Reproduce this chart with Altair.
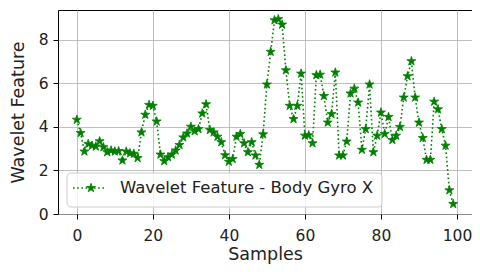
import math
import altair as alt
import pandas as pd

values = [
    4.33, 3.72, 2.87, 3.22, 3.14, 3.10, 3.34, 3.07, 2.84, 2.92,
    2.87, 2.89, 2.46, 2.87, 2.79, 2.77, 2.57, 3.75, 4.56, 5.01,
    4.97, 4.25, 2.73, 2.43, 2.61, 2.73, 2.92, 3.17, 3.52, 3.70,
    4.01, 3.80, 3.90, 4.62, 5.04, 3.86, 3.75, 3.55, 3.30, 2.70,
    2.40, 2.53, 3.55, 3.68, 3.25, 2.84, 3.30, 2.69, 2.26, 3.66,
    5.95, 7.45, 8.90, 8.95, 8.70, 6.60, 4.97, 4.36, 4.97, 6.45,
    3.60, 3.62, 3.25, 6.38, 6.40, 5.42, 4.20, 4.59, 6.50, 2.69,
    2.69, 3.33, 5.54, 5.76, 5.12, 2.95, 3.90, 5.95, 2.84, 3.60,
    4.66, 3.68, 4.46, 3.40, 3.60, 4.00, 5.35, 6.33, 7.02, 5.35,
    4.20, 3.49, 2.49, 2.49, 5.16, 4.81, 3.90, 3.14, 1.09, 0.46,
]
samples = list(range(len(values)))
x_ticks = [0, 20, 40, 60, 80, 100]
y_ticks = [0, 2, 4, 6, 8]
legend_label = "Wavelet Feature - Body Gyro X"

df = pd.DataFrame({"Samples": samples, "Value": values})
GREEN = "#008000"
FONT = "DejaVu Sans"

# five-pointed star symbol path (unit coordinates)
pts_path = []
for k in range(10):
    a = math.radians(-90 + 36 * k)
    r = 1.0 if k % 2 == 0 else 0.382
    pts_path.append(f"{r * math.cos(a):.3f},{r * math.sin(a):.3f}")
STAR = "M" + " L".join(pts_path) + " Z"

xs = alt.Scale(domain=[-4.95, 103.95], nice=False, zero=False)
ys = alt.Scale(domain=[0, 9.37], nice=False, zero=False)

xenc = alt.X("Samples:Q", scale=xs, title="Samples",
             axis=alt.Axis(values=x_ticks, format="d"))
yenc = alt.Y("Value:Q", scale=ys, title="Wavelet Feature",
             axis=alt.Axis(values=y_ticks, format="d"))

line = alt.Chart(df).mark_line(
    color=GREEN, strokeWidth=1.6, strokeDash=[1.6, 2.6]
).encode(x=xenc, y=yenc)

pts = alt.Chart(df).mark_point(
    shape=STAR, filled=True, fill=GREEN, stroke=GREEN, strokeWidth=0.8,
    size=90, opacity=1
).encode(x=xenc, y=yenc)

one = pd.DataFrame({"k": [0]})
leg_box = alt.Chart(one).mark_rect(
    fill="white", fillOpacity=0.8, stroke="#cccccc", strokeWidth=1, cornerRadius=4
).encode(x=alt.value(9), x2=alt.value(324), y=alt.value(163), y2=alt.value(197))
leg_line = alt.Chart(one).mark_rule(
    color=GREEN, strokeWidth=1.6, strokeDash=[1.6, 2.6]
).encode(x=alt.value(15), x2=alt.value(48), y=alt.value(178))
leg_pt = alt.Chart(one).mark_point(
    shape=STAR, filled=True, fill=GREEN, stroke=GREEN, strokeWidth=0.8,
    size=90, opacity=1
).encode(x=alt.value(33), y=alt.value(178))
leg_text = alt.Chart(one).mark_text(
    text=legend_label, align="left", baseline="middle", fontSize=16.5,
    font=FONT, color="#222222"
).encode(x=alt.value(62), y=alt.value(178))

chart = alt.layer(line, pts, leg_box, leg_line, leg_pt, leg_text).properties(
    width=414, height=204,
    padding={"left": 50, "top": 2, "right": 0, "bottom": 50},
    autosize=alt.AutoSizeParams(type="none"),
).configure_view(
    stroke="black", strokeWidth=1
).configure_axis(
    grid=True, gridColor="#b0b0b0", gridWidth=0.8, domain=False,
    tickColor="black", tickSize=5, tickWidth=1,
    labelFont=FONT, labelFontSize=15.5, labelColor="#222222",
    titleFont=FONT, titleFontSize=17.5, titleColor="#222222", titleFontWeight="normal",
).configure_axisX(labelPadding=9, titlePadding=2).configure_axisY(
    labelPadding=5, titlePadding=11)

chart.save("out.html", embed_options={"renderer": "svg", "actions": False})
